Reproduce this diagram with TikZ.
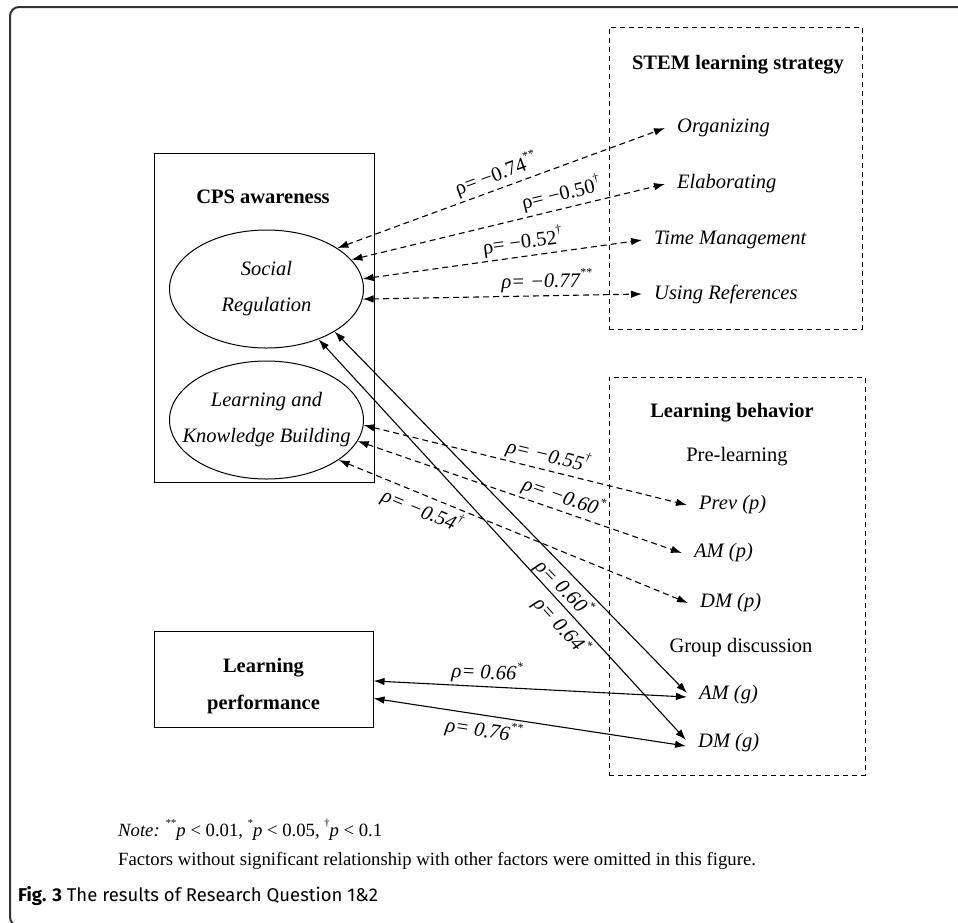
\documentclass[tikz,border=0pt]{standalone}
\usepackage{fontspec}
\setmainfont{Liberation Serif}
\newfontfamily\capfont{Fira Sans}
\usetikzlibrary{arrows.meta,shapes.geometric}
\newcommand{\sig}[1]{\raisebox{0.5em}{\fontsize{12pt}{12pt}\selectfont #1}}
\newcommand{\nsig}[1]{\raisebox{0.5em}{\fontsize{10.5pt}{10.5pt}\selectfont #1}}
\tikzset{
  ttl/.style={font=\fontsize{20.5pt}{24pt}\selectfont\bfseries, inner sep=0pt},
  item/.style={anchor=west, inner xsep=12pt, inner ysep=2pt, font=\fontsize{20.5pt}{24pt}\selectfont\itshape},
  subttl/.style={font=\fontsize{20.5pt}{24pt}\selectfont, inner sep=0pt},
  ell/.style={ellipse, draw, line width=1pt, minimum width=194pt, minimum height=118pt, inner sep=0pt},
  elltext/.style={align=center, inner sep=0pt, font=\fontsize{20.5pt}{36pt}\selectfont\itshape},
  sbox/.style={draw, line width=1pt},
  dbox/.style={draw, line width=1pt, dash pattern=on 5pt off 4pt},
  lab/.style={font=\fontsize{20.5pt}{24pt}\selectfont, inner sep=3pt},
  labi/.style={font=\fontsize{20.5pt}{24pt}\selectfont\itshape, inner sep=3pt},
  dasharr/.style={{Latex[length=11pt,width=7.5pt]}-{Latex[length=11pt,width=7.5pt]}, line width=1.1pt, dash pattern=on 6pt off 4pt},
  solarr/.style={{Latex[length=11pt,width=7.5pt]}-{Latex[length=11pt,width=7.5pt]}, line width=1.1pt},
}
\begin{document}
\begin{tikzpicture}[x=1pt,y=-1pt]
\clip (0,0) rectangle (958,922);
\fill[white] (0,0) rectangle (958,922);
% frame
\draw[line width=2pt, black!80, rounded corners=9pt] (965,7) -- (10,7) -- (10,926) -- (40,926);

% CPS awareness
\node[sbox, minimum width=220pt, minimum height=329pt] (cps) at (264,317.5) {};
\node[ttl] (cpst) at (263,197) {CPS awareness};
\node[ell] (sr) at (266.5,289) {};
\node[elltext] (srt) at (sr.center) {Social\\Regulation};
\node[ell] (lkb) at (266.5,420) {};
\node[elltext] (lkbt) at (lkb.center) {Learning and\\Knowledge Building};

% Learning performance
\node[sbox, minimum width=219pt, minimum height=96pt] (lp) at (263.5,679) {};
\node[ttl, align=center, font=\fontsize{20.5pt}{37pt}\selectfont\bfseries] (lpt) at (263.5,686) {Learning\\performance};

% STEM learning strategy
\node[dbox, minimum width=253pt, minimum height=302pt] (stem) at (735.5,178) {};
\node[ttl] (stemt) at (738,65) {STEM learning strategy};
\node[item] (org) at (665,128) {Organizing};
\node[item] (elab) at (665,184) {Elaborating};
\node[item] (tm) at (642,240) {Time Management};
\node[item] (ur) at (642,294) {Using References};

% Learning behavior
\node[dbox, minimum width=256pt, minimum height=398pt] (lb) at (737,576) {};
\node[ttl] (lbt) at (732,413) {Learning behavior};
\node[subttl] (pre) at (737,457) {Pre-learning};
\node[item] (prev) at (687,505) {Prev (p)};
\node[item] (amp) at (682,553) {AM (p)};
\node[item] (dmp) at (688,603) {DM (p)};
\node[subttl] (gd) at (741,648) {Group discussion};
\node[item] (amg) at (687,695) {AM (g)};
\node[item] (dmg) at (686,743) {DM (g)};

% connectors: CPS -- STEM
\draw[dasharr] (sr.30) -- node[lab, sloped, above, pos=0.5] {ρ= −0.74\sig{**}} (org.west);
\draw[dasharr] (sr.19) -- node[lab, sloped, above, pos=0.68] {ρ= −0.50\sig{†}} (elab.west);
\draw[dasharr] (sr.6) -- node[lab, sloped, above, pos=0.58] {ρ= −0.52\sig{†}} (tm.west);
\draw[dasharr] (sr.-6) -- node[labi, sloped, above, pos=0.66] {ρ= −0.77\sig{**}} (ur.west);

% CPS -- pre-learning
\draw[dasharr] (lkb.-3) -- node[labi, sloped, above, pos=0.56] {ρ= −0.55\sig{†}} (prev.west);
\draw[dasharr] (lkb.-13) -- node[labi, sloped, above, pos=0.62] {ρ= −0.60\sig{*}} (amp.west);
\draw[dasharr] (lkb.-29) -- node[labi, sloped, below, pos=0.255] {ρ= −0.54\sig{†}} (dmp.west);

% CPS -- group discussion
\draw[solarr] (sr.-32) -- node[labi, sloped, below, pos=0.68] {ρ= 0.60\sig{*}} ([yshift=2pt]amg.west);
\draw[solarr] (sr.-44) -- node[labi, sloped, below, pos=0.69] {ρ= 0.64\sig{*}} ([yshift=3pt]dmg.west);

% Learning performance -- group discussion
\draw[solarr] (lp.-1) -- node[labi, sloped, above, pos=0.36] {ρ= 0.66\sig{*}} ([yshift=-2pt]amg.west);
\draw[solarr] (lp.-10) -- node[labi, sloped, below, pos=0.36] {ρ= 0.76\sig{**}} ([yshift=-3pt]dmg.west);

% notes and caption
\node[anchor=west, inner sep=0pt, font=\fontsize{18.7pt}{22pt}\selectfont] (note) at (118,830) {\textit{Note:} \nsig{**}\textit{p} < 0.01, \nsig{*}\textit{p} < 0.05, \nsig{†}\textit{p} < 0.1};
\node[anchor=west, inner sep=0pt, font=\fontsize{18.7pt}{22pt}\selectfont] (fac) at (118,861) {Factors without significant relationship with other factors were omitted in this figure.};
\node[anchor=west, inner sep=0pt, font=\capfont\fontsize{18.5pt}{20pt}\selectfont] (cap) at (18,896) {\textbf{Fig. 3} The results of Research Question 1\&2};
\end{tikzpicture}
\end{document}
